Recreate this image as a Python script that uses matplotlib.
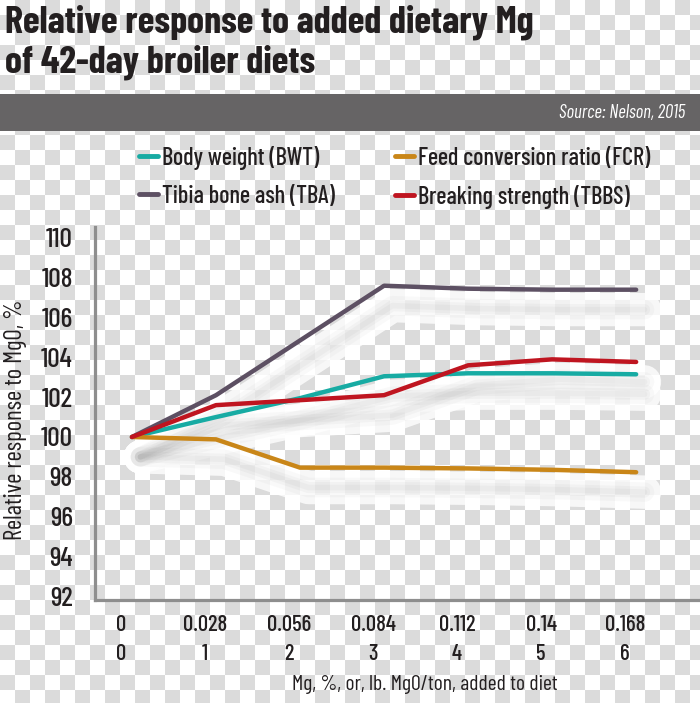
import numpy as np
import matplotlib
matplotlib.use("Agg")
import matplotlib.pyplot as plt
from matplotlib.patches import Rectangle
from matplotlib.transforms import ScaledTranslation
from matplotlib import font_manager

avail = set(f.name for f in font_manager.fontManager.ttflist)
MAIN = next((n for n in ['Barlow Condensed', 'Barlow Semi Condensed', 'Archivo Narrow',
                         'Roboto Condensed', 'Liberation Sans'] if n in avail), 'DejaVu Sans')
plt.rcParams['font.family'] = [MAIN, 'DejaVu Sans']
plt.rcParams['font.weight'] = 'medium'

# ---------------- data ----------------
x_pos = [0, 1, 2, 3, 4, 5, 6]
mg_pct = ['0', '0.028', '0.056', '0.084', '0.112', '0.14', '0.168']
mgo_lb = ['0', '1', '2', '3', '4', '5', '6']
bwt = [100.0, 101.0, 101.95, 103.05, 103.2, 103.2, 103.15]
tba = [100.0, 102.1, 104.85, 107.6, 107.45, 107.4, 107.4]
fcr = [100.0, 99.88, 98.46, 98.46, 98.42, 98.35, 98.23]
tbbs = [100.0, 101.6, 101.85, 102.1, 103.6, 103.9, 103.77]
y_ticks = [92, 94, 96, 98, 100, 102, 104, 106, 108, 110]

series = [
    ("Body weight (BWT)", bwt, "#17aba3"),
    ("Tibia bone ash (TBA)", tba, "#5d5063"),
    ("Feed conversion ratio (FCR)", fcr, "#c98618"),
    ("Breaking strength (TBBS)", tbbs, "#bf1520"),
]

W, H = 700, 703
fig = plt.figure(figsize=(W / 100, H / 100), dpi=100)
fig.patch.set_facecolor('white')
R = fig.canvas.get_renderer()


def text_width(s, fs, **kw):
    t = fig.text(0, 0, s, fontsize=fs, **kw)
    w = t.get_window_extent(R).width
    t.remove()
    return w


def fit_size(s, target_px, nominal, k=0.75, **kw):
    # weighted compromise between the reference's glyph height (nominal) and text width
    fw = nominal * target_px / text_width(s, nominal, **kw)
    return fw ** k * nominal ** (1 - k)


# checkerboard background (transparency pattern of the reference)
ii, jj = np.mgrid[0:H, 0:W]
chk = ((ii // 15 + jj // 15) % 2 == 1)
bg = np.ones((H, W, 3))
bg[chk] = 0.86
fig.figimage(bg, 0, 0, origin='upper', zorder=-10)

# title
t1 = "Relative response to added dietary Mg"
fs_title = fit_size(t1, 535, 24.5, k=0.9, fontweight='bold')
fig.text(5 / W, 1 - 32 / H, t1, fontsize=fs_title, fontweight='bold',
         color='#231f20', va='baseline', ha='left')
fig.text(5 / W, 1 - 72 / H, "of 42-day broiler diets", fontsize=fs_title,
         fontweight='bold', color='#231f20', va='baseline', ha='left')

# grey source bar
fig.patches.append(Rectangle((0, 1 - 131 / H), 1, 37 / H, transform=fig.transFigure,
                             facecolor='#666465', edgecolor='none', zorder=1))
src = "Source: Nelson, 2015"
fs_src = fit_size(src, 133, 11.5, style='italic', fontweight='normal')
fig.text(685 / W, 1 - 113 / H, src, fontsize=fs_src, style='italic', fontweight='normal',
         color='white', ha='right', va='center', zorder=2)

# axes
ax = fig.add_axes([95 / W, 1 - 600 / H, 605 / W, 373 / H])
ax.set_facecolor('none')
ax.set_xlim(-0.44, 6.76)
ax.set_ylim(91.81, 110.55)

xs = np.array(x_pos, dtype=float)
# soft shadows / glow under lines
for name, vals, col in series:
    v = np.array(vals)
    sx, sy = xs + 0.1, v - 1.0
    ax.plot(sx, sy, color='white', lw=24, alpha=0.8, solid_capstyle='round',
            solid_joinstyle='round', zorder=1)
    for lw, a in [(14, 0.04), (8, 0.05), (4, 0.05)]:
        ax.plot(sx, sy, color='#707070', lw=lw, alpha=a, solid_capstyle='round',
                solid_joinstyle='round', zorder=1.5)

handles = []
for name, vals, col in series:
    ln, = ax.plot(xs, vals, color=col, lw=3.2, solid_capstyle='round',
                  solid_joinstyle='round', zorder=3, label=name)
    handles.append(ln)

for side in ['top', 'right']:
    ax.spines[side].set_visible(False)
for side in ['left', 'bottom']:
    ax.spines[side].set_color('#8e8e8e')
    ax.spines[side].set_linewidth(2.3)

fs_y = fit_size("110", 30, 14.5)
ax.set_yticks(y_ticks)
ax.set_yticklabels([str(t) for t in y_ticks])
ax.tick_params(axis='y', length=0, pad=16, labelsize=fs_y, labelcolor='#231f20')

fs_x = fit_size("0.028", 47, 14)
ax.set_xticks(x_pos)
ax.set_xticklabels([f"{a}\n{b}" for a, b in zip(mg_pct, mgo_lb)], linespacing=1.55)
ax.tick_params(axis='x', length=0, pad=11, labelsize=fs_x, labelcolor='#231f20')
off = ScaledTranslation(-11 / 100, 0, fig.dpi_scale_trans)
for lab in ax.get_xticklabels():
    lab.set_transform(lab.get_transform() + off)

xl = "Mg, %, or, lb. MgO/ton, added to diet"
ax.set_xlabel(xl, fontsize=fit_size(xl, 270, 15.5), color='#231f20')
ax.xaxis.set_label_coords(0.545, -0.2)
yl = "Relative response to MgO, %"
ax.set_ylabel(yl, fontsize=fit_size(yl, 250, 15.5, k=0.9), color='#231f20')
ax.yaxis.set_label_coords(-0.1124, 0.4826)

# legend (column order: BWT, TBA | FCR, TBBS)
fs_leg = fit_size("Feed conversion ratio (FCR)", 237, 16, k=0.85)
fpx = fs_leg * 100 / 72
w_tba = text_width("Tibia bone ash (TBA)", fs_leg)
colsp = (395 - (162 + w_tba)) / fpx
leg = fig.legend(handles=[handles[0], handles[1], handles[2], handles[3]],
                 loc='upper left', bbox_to_anchor=(139 / W, 1 - (161 - 0.62 * fpx) / H),
                 ncol=2, frameon=False, fontsize=fs_leg, handlelength=19 / fpx,
                 handletextpad=4 / fpx, columnspacing=colsp,
                 labelspacing=(44 - 1.2 * fpx) / fpx,
                 borderpad=0, borderaxespad=0)
for t in leg.get_texts():
    t.set_color('#231f20')
for lh in leg.get_lines():
    lh.set_linewidth(3.5)

fig.savefig("out.png", dpi=100)
